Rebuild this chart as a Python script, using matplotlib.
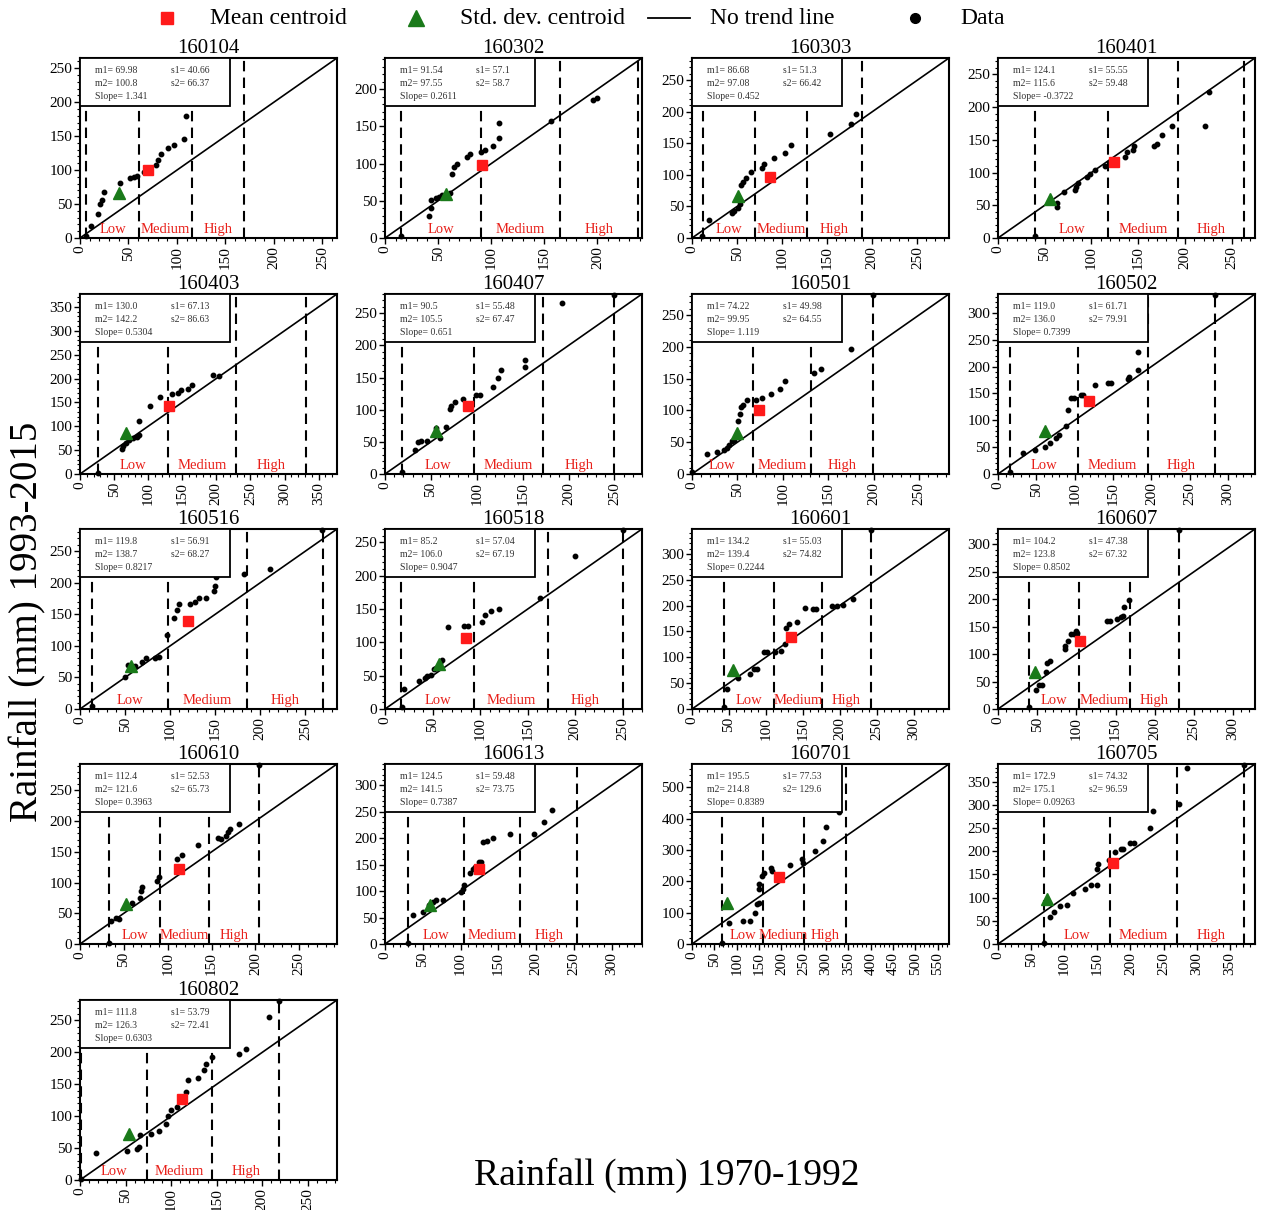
import matplotlib
matplotlib.use("Agg")
import matplotlib.pyplot as plt
from matplotlib.ticker import MultipleLocator, AutoMinorLocator
from matplotlib.lines import Line2D
from matplotlib.patches import Rectangle
import matplotlib.transforms as mtransforms

plt.rcParams['font.family'] = ['Liberation Serif', 'DejaVu Serif']

stations = ["160104", "160302", "160303", "160401",
            "160403", "160407", "160501", "160502",
            "160516", "160518", "160601", "160607",
            "160610", "160613", "160701", "160705",
            "160802"]

m1 = ["69.98", "91.54", "86.68", "124.1", "130.0", "90.5", "74.22", "119.0", "119.8",
      "85.2", "134.2", "104.2", "112.4", "124.5", "195.5", "172.9", "111.8"]
m2 = ["100.8", "97.55", "97.08", "115.6", "142.2", "105.5", "99.95", "136.0", "138.7",
      "106.0", "139.4", "123.8", "121.6", "141.5", "214.8", "175.1", "126.3"]
s1 = ["40.66", "57.1", "51.3", "55.55", "67.13", "55.48", "49.98", "61.71", "56.91",
      "57.04", "55.03", "47.38", "52.53", "59.48", "77.53", "74.32", "53.79"]
s2 = ["66.37", "58.7", "66.42", "59.48", "86.63", "67.47", "64.55", "79.91", "68.27",
      "67.19", "74.82", "67.32", "65.73", "73.75", "129.6", "96.59", "72.41"]
slope = ["1.341", "0.2611", "0.452", "-0.3722", "0.5304", "0.651", "1.119", "0.7399", "0.8217",
         "0.9047", "0.2244", "0.8502", "0.3963", "0.7387", "0.8389", "0.09263", "0.6303"]

# axis upper limit (same for x and y)
limits = [265, 242, 285, 275, 377, 280, 283, 335, 285, 270, 348, 328, 293, 340, 575, 388, 282]

# class boundaries (dashed lines)
bounds = [[6, 61, 115, 169], [15, 90, 165, 238], [12, 70, 128, 188], [40, 118, 193, 263],
          [26, 129, 229, 332], [18, 97, 172, 250], [0, 67, 131, 199], [15, 104, 195, 283],
          [13.5, 98, 185, 270], [17, 94, 171, 250], [44, 110.6, 176, 242.5], [39, 103, 168, 231],
          [33.6, 91, 147, 204], [31, 105, 179, 254], [67, 159, 250.6, 344], [69, 169, 270, 372],
          [1, 74, 145, 218.5]]

x_160104 = [6, 11, 19, 21, 23, 25, 41, 52, 56, 59, 66, 78, 80, 84, 91, 97, 107, 109]
y_160104 = [3, 18, 36, 50, 56, 67, 81, 89, 90, 92, 97, 107, 115, 123, 132, 137, 146, 180]

x_160302 = [15, 41, 43, 43, 48, 51, 54, 61, 63, 65, 68, 77, 80, 90, 94, 102, 107, 107, 156, 196, 200]
y_160302 = [3, 30, 40, 51, 54, 55, 58, 61, 86, 96, 100, 109, 113, 115, 118, 124, 134, 154, 157, 186, 188]

x_160303 = [11, 19, 44, 47, 51, 53, 53, 54, 57, 60, 65, 78, 80, 91, 103, 110, 153, 176, 182]
y_160303 = [3, 29, 39, 42, 48, 54, 60, 84, 88, 95, 104, 111, 117, 126, 134, 147, 165, 180, 196]

x_160401 = [40, 63, 63, 71, 82, 83, 86, 95, 98, 104, 115, 136, 138, 144, 145, 167, 170, 176, 186, 222, 226]
y_160401 = [3, 53, 48, 70, 74, 78, 84, 93, 98, 104, 110, 124, 131, 135, 140, 141, 144, 158, 171, 171, 223]

x_160403 = [26, 61, 63, 67, 72, 78, 83, 87, 87, 103, 117, 135, 144, 148, 159, 165, 195, 204]
y_160403 = [3, 53, 59, 64, 71, 76, 78, 82, 110, 142, 161, 167, 170, 175, 179, 186, 207, 206]

x_160407 = [19, 33, 36, 39, 46, 56, 60, 66, 71, 72, 76, 85, 99, 104, 118, 123, 126, 152, 153, 193, 250]
y_160407 = [3, 37, 50, 52, 52, 72, 56, 73, 101, 106, 112, 116, 123, 123, 136, 149, 161, 166, 178, 266, 278]

x_160501 = [0, 16, 28, 35, 38, 41, 44, 46, 51, 53, 54, 56, 61, 70, 77, 87, 97, 102, 134, 142, 175, 199]
y_160501 = [3, 32, 35, 38, 41, 46, 52, 54, 83, 95, 105, 109, 117, 117, 120, 126, 133, 147, 159, 165, 196, 281]

x_160502 = [16, 32, 48, 61, 68, 76, 79, 89, 91, 95, 99, 108, 111, 127, 143, 147, 169, 171, 183, 183, 283]
y_160502 = [3, 40, 45, 51, 57, 67, 72, 89, 120, 141, 141, 147, 147, 166, 169, 169, 176, 181, 193, 227, 333]

x_160516 = [13.5, 49.5, 53, 61, 68.5, 73, 83, 88, 97, 104.5, 108, 110, 122, 127.5, 131.5, 140, 148.6,
            149.5, 151, 182, 211, 268]
y_160516 = [4, 50, 69, 68, 74.5, 80, 80, 83, 117, 143.5, 157, 167, 167, 170, 175, 175, 187.5,
            194, 209, 213, 222, 283]

x_160518 = [18, 20, 36, 42, 44, 48, 51, 54, 58, 59.5, 66, 83, 87.5, 102, 105, 111, 120, 163, 200, 250]
y_160518 = [3, 30, 42, 47, 50, 51, 59.5, 62, 69, 74, 123, 125, 125, 130, 141, 147, 150, 167, 230, 268]

x_160601 = [44, 48, 62, 78, 84, 88, 97, 101, 113, 120, 125.5, 127.6, 131, 142.5, 153, 164, 168, 190,
            197, 205, 218, 242.5]
y_160601 = [3, 39, 60.5, 68, 78, 78, 110, 110, 110, 113, 126, 157, 164, 168, 195, 194, 194, 199,
            199, 202, 212, 346]

x_160607 = [39, 49, 52, 56, 61, 62, 67, 85, 86, 89.5, 93, 97, 99.5, 101, 139, 143, 152, 157, 159,
            161, 167, 231]
y_160607 = [3, 35, 44, 44, 67, 84, 87, 108.6, 115, 124, 136, 136, 142, 138, 161, 161, 164, 167, 170,
            185, 199, 326]

x_160610 = [33.6, 35, 40.7, 44, 59, 68, 69, 71, 88, 90, 111, 116, 135, 157.5, 161, 166, 169, 170.5, 181, 204]
y_160610 = [1, 38, 42, 41, 66, 75, 86, 93, 103, 108.5, 138, 145, 161, 172, 171, 176, 182, 187.5, 196, 291]

x_160613 = [31, 37, 50, 58, 63, 68, 77, 100.5, 102.6, 104, 112, 116, 119.5, 125, 127, 130, 135, 143,
            166, 197, 210, 221]
y_160613 = [1, 54, 60, 73, 80, 84, 84, 99, 104, 112, 135, 142, 145, 155, 155, 193, 195, 200.6,
            207, 207, 230, 253]

x_160701 = [67, 83, 113, 130, 141.5, 146, 150, 150, 150, 156, 161.6, 176, 179, 220, 246, 249, 275,
            293, 299, 329]
y_160701 = [2, 67.5, 75, 75, 100, 127, 130, 176, 193, 217, 228, 242, 234, 253, 271, 260, 296,
            329, 372.5, 421.5]

x_160705 = [69, 78, 84, 94, 103.5, 113.6, 131, 140, 149, 149, 151, 167, 176, 185, 189, 199, 205, 230,
            234, 273, 285, 372]
y_160705 = [1.5, 58.5, 70, 81, 85, 110, 118, 127, 127, 161, 172, 181, 199, 205, 205, 218.5, 218.5, 250,
            287, 301, 379, 386]

x_160802 = [1, 17.6, 52, 62, 65, 66, 77.5, 86.5, 94, 97, 100, 106, 116.7, 118, 130, 136, 138, 145,
            174, 182, 207, 218.5]
y_160802 = [1, 43, 46, 49, 51, 70, 72.5, 77, 88, 100, 109.5, 115, 138.6, 156, 160, 173, 181, 193,
            198, 205, 256, 281]

xs = [x_160104, x_160302, x_160303, x_160401, x_160403, x_160407, x_160501, x_160502, x_160516,
      x_160518, x_160601, x_160607, x_160610, x_160613, x_160701, x_160705, x_160802]
ys = [y_160104, y_160302, y_160303, y_160401, y_160403, y_160407, y_160501, y_160502, y_160516,
      y_160518, y_160601, y_160607, y_160610, y_160613, y_160701, y_160705, y_160802]

classes = ["Low", "Medium", "High"]

W, H = 1261, 1210
fig = plt.figure(figsize=(W / 100, H / 100), dpi=100)

col_left = [80, 385, 692, 998]
row_bottom = [238, 474, 709, 944, 1180]
aw, ah = 257, 180

for i, st in enumerate(stations):
    r, c = i // 4, i % 4
    ax = fig.add_axes([col_left[c] / W, 1 - row_bottom[r] / H, aw / W, ah / H])
    lim = limits[i]
    ax.set_xlim(0, lim)
    ax.set_ylim(0, lim)

    # no trend line
    ax.plot([0, lim], [0, lim], color='k', lw=1.2, zorder=2)
    # class boundaries
    for b in bounds[i]:
        ax.axvline(b, color='k', lw=1.5, ls=(0, (5, 3)), zorder=2)
    ax.plot(xs[i], ys[i], 'o', color='k', ms=3.2, zorder=3, clip_on=False)
    ax.plot(float(m1[i]), float(m2[i]), 's', color='#ff1a1a', ms=7.5, zorder=4)
    ax.plot(float(s1[i]), float(s2[i]), '^', color='#1a7a1a', ms=9, zorder=4)

    # class labels
    trans = mtransforms.blended_transform_factory(ax.transData, ax.transAxes)
    for k, lab in enumerate(classes):
        mid = (bounds[i][k] + bounds[i][k + 1]) / 2
        ax.text(mid, 0.045, lab, transform=trans, ha='center', va='center',
                color='#e8201a', fontsize=10.5, zorder=5)

    # stats box
    ax.add_patch(Rectangle((0, 0.735), 0.584, 0.265, transform=ax.transAxes,
                           facecolor='white', edgecolor='k', lw=1.3, zorder=6))
    kw = dict(transform=ax.transAxes, fontsize=7, color='#333333', va='center', zorder=7)
    ax.text(0.06, 0.93, "m1= " + m1[i], **kw)
    ax.text(0.06, 0.86, "m2= " + m2[i], **kw)
    ax.text(0.06, 0.785, "Slope= " + slope[i], **kw)
    ax.text(0.355, 0.93, "s1= " + s1[i], **kw)
    ax.text(0.355, 0.86, "s2= " + s2[i], **kw)

    ax.set_title(st, fontsize=15, pad=1.5)

    if lim > 500:
        ax.xaxis.set_major_locator(MultipleLocator(50))
        ax.yaxis.set_major_locator(MultipleLocator(100))
    else:
        ax.xaxis.set_major_locator(MultipleLocator(50))
        ax.yaxis.set_major_locator(MultipleLocator(50))
    ax.xaxis.set_minor_locator(AutoMinorLocator(5))
    ax.yaxis.set_minor_locator(AutoMinorLocator(5))
    ax.tick_params(which='major', direction='out', length=4, width=1, labelsize=11, pad=1.5)
    ax.tick_params(which='minor', direction='out', length=2, width=0.8)
    ax.tick_params(axis='x', labelrotation=90)
    for sp in ax.spines.values():
        sp.set_linewidth(1.5)

# legend along the top
ly = 1 - 18 / H
fig.add_artist(Line2D([167 / W], [ly], marker='s', color='#ff1a1a', ms=9, ls='none',
                      transform=fig.transFigure))
fig.text(210 / W, ly, "Mean centroid", fontsize=17, va='center')
fig.add_artist(Line2D([416 / W], [ly], marker='^', color='#1a7a1a', ms=11, ls='none',
                      transform=fig.transFigure))
fig.text(460 / W, ly, "Std. dev. centroid", fontsize=17, va='center')
fig.add_artist(Line2D([648 / W, 690 / W], [ly, ly], color='k', lw=1.3,
                      transform=fig.transFigure))
fig.text(710 / W, ly, "No trend line", fontsize=17, va='center')
fig.add_artist(Line2D([915 / W], [ly], marker='o', color='k', ms=7, ls='none',
                      transform=fig.transFigure))
fig.text(960 / W, ly, "Data", fontsize=17, va='center')

fig.text(28 / W, 1 - 622 / H, "Rainfall (mm) 1993-2015", rotation=90, fontsize=28,
         ha='center', va='center')
fig.text(667 / W, 1 - 1175 / H, "Rainfall (mm) 1970-1992", fontsize=27,
         ha='center', va='center')

fig.savefig("out.png", dpi=100)
